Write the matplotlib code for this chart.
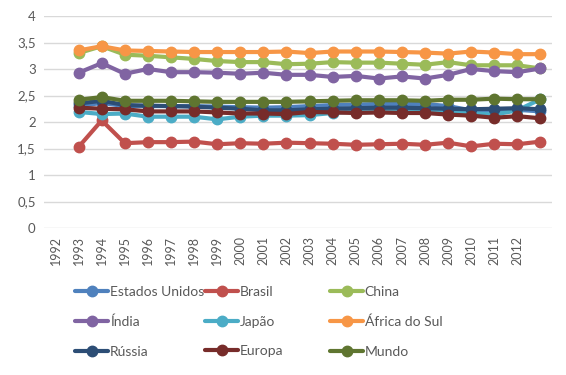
import numpy as np
import matplotlib
matplotlib.use("Agg")
import matplotlib.pyplot as plt

# --- Data ---------------------------------------------------------------------

year_labels = [str(y) for y in range(1992, 2013)] + [""]
years = list(range(1993, 2014))  # data sits one slot after the first label

estados_unidos = [2.30, 2.36, 2.30, 2.30, 2.30, 2.30, 2.29, 2.28, 2.27, 2.28, 2.30,
                  2.32, 2.33, 2.34, 2.34, 2.34, 2.30, 2.22, 2.22, 2.23, 2.20]
brasil = [1.53, 2.03, 1.60, 1.62, 1.62, 1.63, 1.58, 1.60, 1.59, 1.61, 1.60,
          1.59, 1.57, 1.58, 1.59, 1.57, 1.61, 1.54, 1.59, 1.58, 1.63]
china = [3.30, 3.43, 3.27, 3.25, 3.22, 3.19, 3.15, 3.13, 3.13, 3.09, 3.10,
         3.13, 3.12, 3.12, 3.10, 3.08, 3.13, 3.07, 3.07, 3.07, 3.01]
india = [2.93, 3.11, 2.91, 3.00, 2.94, 2.94, 2.93, 2.91, 2.93, 2.89, 2.89,
         2.85, 2.87, 2.82, 2.86, 2.82, 2.89, 3.00, 2.96, 2.94, 3.01]
japao = [2.19, 2.15, 2.16, 2.10, 2.10, 2.10, 2.05, 2.10, 2.12, 2.12, 2.13,
         2.17, 2.20, 2.22, 2.22, 2.25, 2.18, 2.17, 2.14, 2.22, 2.43]
africa_do_sul = [3.35, 3.43, 3.35, 3.34, 3.33, 3.32, 3.32, 3.32, 3.32, 3.33, 3.30,
                 3.33, 3.33, 3.33, 3.32, 3.31, 3.29, 3.33, 3.31, 3.28, 3.28]
russia = [2.35, 2.40, 2.32, 2.31, 2.30, 2.29, 2.27, 2.25, 2.22, 2.22, 2.24,
          2.25, 2.26, 2.27, 2.27, 2.26, 2.25, 2.24, 2.25, 2.26, 2.24]
europa = [2.27, 2.25, 2.24, 2.20, 2.20, 2.20, 2.18, 2.16, 2.16, 2.15, 2.19,
          2.18, 2.17, 2.18, 2.17, 2.17, 2.14, 2.12, 2.08, 2.11, 2.07]
mundo = [2.42, 2.47, 2.40, 2.40, 2.40, 2.39, 2.38, 2.38, 2.38, 2.38, 2.39,
         2.40, 2.41, 2.41, 2.41, 2.40, 2.42, 2.42, 2.44, 2.43, 2.43]

series = [
    ("Estados Unidos", estados_unidos, "#4F81BD"),
    ("Brasil", brasil, "#C0504D"),
    ("China", china, "#9BBB59"),
    ("Índia", india, "#8064A2"),
    ("Japão", japao, "#4BACC6"),
    ("África do Sul", africa_do_sul, "#F79646"),
    ("Rússia", russia, "#2C4D75"),
    ("Europa", europa, "#772C2A"),
    ("Mundo", mundo, "#5F7530"),
]

# --- Plot ---------------------------------------------------------------------

plt.rcParams["font.family"] = ["Lato", "DejaVu Sans"]
TXT = "#595959"

fig = plt.figure(figsize=(5.66, 3.75), dpi=100)
ax = fig.add_axes([44 / 566, 1 - 228 / 375, 508 / 566, 212 / 375])

x = np.arange(len(years)) + 1
handles = []
for name, vals, col in series:
    h, = ax.plot(x, vals, color=col, lw=3, marker="o", ms=7.5, label=name,
                 solid_capstyle="round")
    handles.append(h)

ax.set_xlim(-0.5, len(year_labels) - 0.5)
ax.set_xticks(np.arange(len(year_labels)))
ax.set_xticklabels(year_labels, rotation=90, fontsize=9, color=TXT)
ax.set_ylim(0, 4)
yt = np.arange(0, 4.01, 0.5)
ax.set_yticks(yt)
ax.set_yticklabels([f"{v:g}".replace(".", ",") for v in yt], fontsize=9.5,
                   color=TXT)
ax.tick_params(length=0, pad=6)
ax.grid(axis="y", color="#D9D9D9", lw=1)
ax.set_axisbelow(True)
for s in ax.spines.values():
    s.set_visible(False)

# legend: three fixed-position columns, filled row by row
col_x = [75, 205, 330]
for c in range(3):
    hs = handles[c::3]
    fig.legend(hs, [h.get_label() for h in hs], loc="upper left",
               bbox_to_anchor=(col_x[c] / 566, 1 - 286 / 375), frameon=False,
               fontsize=10, handlelength=2.4, handletextpad=0.1,
               labelspacing=1.27, labelcolor=TXT, borderaxespad=0,
               borderpad=0)

fig.savefig("out.png", dpi=100)
